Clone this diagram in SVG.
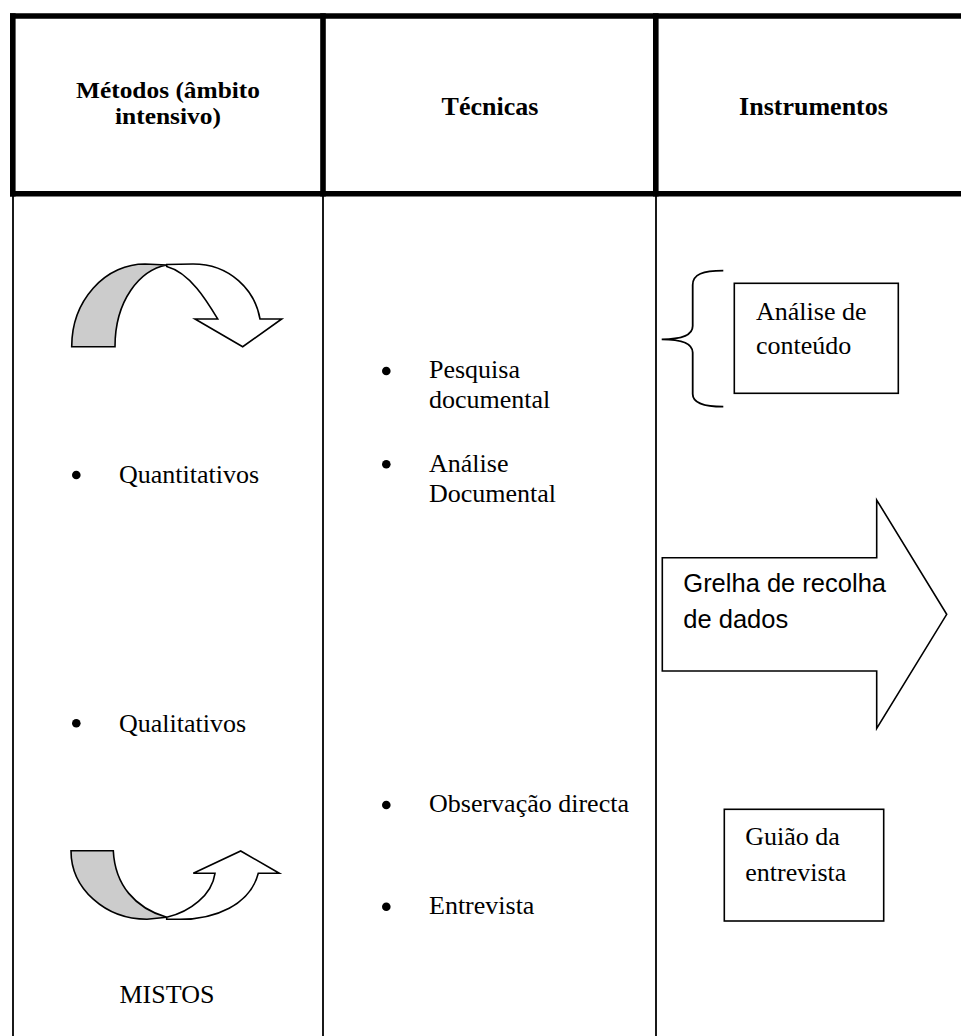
<svg xmlns="http://www.w3.org/2000/svg" width="961" height="1036" viewBox="0 0 961 1036">
<style>
.thick{stroke:#000;stroke-width:5.6;fill:none}
.thin{stroke:#000;stroke-width:1.8;fill:none}
.hdr{font-family:"Liberation Serif","Times New Roman",serif;font-weight:bold;font-size:26px;fill:#000}
.hdr2{font-family:"Liberation Serif","Times New Roman",serif;font-weight:bold;font-size:23px;fill:#000}
.txt{font-family:"Liberation Serif","Times New Roman",serif;font-size:26px;fill:#000}
.sans{font-family:"Liberation Sans",Arial,sans-serif;font-size:25.5px;fill:#000}
.shape{stroke:#000;stroke-width:1.6;fill:#fff;stroke-linejoin:miter}
.grey{stroke:#000;stroke-width:1.6;fill:#cccccc}
.box{stroke:#000;stroke-width:1.6;fill:#fff}
</style>
<rect width="961" height="1036" fill="#fff"/>
<g id="table">
  <line class="thin" x1="13" y1="196" x2="13" y2="1036"/>
  <line class="thin" x1="323" y1="196" x2="323" y2="1036"/>
  <line class="thin" x1="656" y1="196" x2="656" y2="1036"/>
  <line class="thick" x1="10" y1="16" x2="961" y2="16"/>
  <line class="thick" x1="10" y1="193.7" x2="961" y2="193.7"/>
  <line class="thick" x1="12.8" y1="13.2" x2="12.8" y2="196.5"/>
  <line class="thick" x1="323" y1="13.2" x2="323" y2="196.5"/>
  <line class="thick" x1="655.8" y1="13.2" x2="655.8" y2="196.5"/>
</g>
<g id="header">
  <text class="hdr2" x="168" y="98.3" text-anchor="middle" textLength="184" lengthAdjust="spacingAndGlyphs">Métodos (âmbito</text>
  <text class="hdr2" x="168" y="123.8" text-anchor="middle" textLength="106" lengthAdjust="spacingAndGlyphs">intensivo)</text>
  <text class="hdr" x="490" y="115" text-anchor="middle">Técnicas</text>
  <text class="hdr" x="813.5" y="115" text-anchor="middle">Instrumentos</text>
</g>
<g id="curved-arrow-top">
  <path class="grey" d="M71.7,346.7 A73.3,82.7 0 0 1 145,264 L166.7,265 C140,270 115,300 115,346.7 Z"/>
  <path class="shape" d="M166.7,264.5 L193,264 C230,264 255,290 260,319 L281.7,319 L242.7,346.7 L195,319 L217.7,319 C207.2,301.5 190.2,272.8 166.7,266.5 Z"/>
</g>
<g id="curved-arrow-bottom">
  <path class="grey" d="M71,850.7 L113.3,850.7 C115,885 135,908 166.7,917.3 L147,919.3 A76,68.6 0 0 1 71,850.7 Z"/>
  <path class="shape" d="M166.7,919.3 L180,919.3 C215,919.3 250,905 258.3,873.3 L279.3,873.3 L240.7,851 L193.3,873.3 L215,873.3 C212,895 190,912 166.7,917.3 Z"/>
</g>
<g id="metodos">
  <circle cx="76.3" cy="475" r="4.3"/>
  <text class="txt" x="119" y="483.3">Quantitativos</text>
  <circle cx="76.3" cy="723.3" r="4.3"/>
  <text class="txt" x="119" y="731.5">Qualitativos</text>
  <text class="txt" x="119.5" y="1003">MISTOS</text>
</g>
<g id="tecnicas">
  <circle cx="386.3" cy="371" r="4.3"/>
  <text class="txt" x="429" y="378">Pesquisa</text>
  <text class="txt" x="429" y="408">documental</text>
  <circle cx="386.3" cy="464.3" r="4.3"/>
  <text class="txt" x="429" y="471.7">Análise</text>
  <text class="txt" x="429" y="501.7">Documental</text>
  <circle cx="386.3" cy="805" r="4.3"/>
  <text class="txt" x="429" y="811.7">Observação directa</text>
  <circle cx="386.3" cy="906.7" r="4.3"/>
  <text class="txt" x="429" y="914">Entrevista</text>
</g>
<g id="brace">
  <path class="thin" d="M723.3,270.7 C703,270.7 692.7,274 692.7,285 L692.7,326 C692.7,334 684,339.3 661.7,339.3 C684,339.3 692.7,344.6 692.7,352.6 L692.7,394 C692.7,403 703,406.7 723.3,406.7"/>
</g>
<g id="analise-conteudo">
  <rect class="box" x="734.3" y="283.3" width="164" height="110"/>
  <text class="txt" x="756" y="320">Análise de</text>
  <text class="txt" x="756" y="354">conteúdo</text>
</g>
<g id="grelha">
  <polygon class="shape" points="662.3,557.7 876.7,557.7 876.7,500 946.7,614.3 876.7,728.3 876.7,671 662.3,671"/>
  <text class="sans" x="683.3" y="591.7">Grelha de recolha</text>
  <text class="sans" x="683.3" y="627.7">de dados</text>
</g>
<g id="guiao">
  <rect class="box" x="724.3" y="809.3" width="159.4" height="111.7"/>
  <text class="txt" x="745.3" y="844.5">Guião da</text>
  <text class="txt" x="745.3" y="880.7">entrevista</text>
</g>
</svg>
